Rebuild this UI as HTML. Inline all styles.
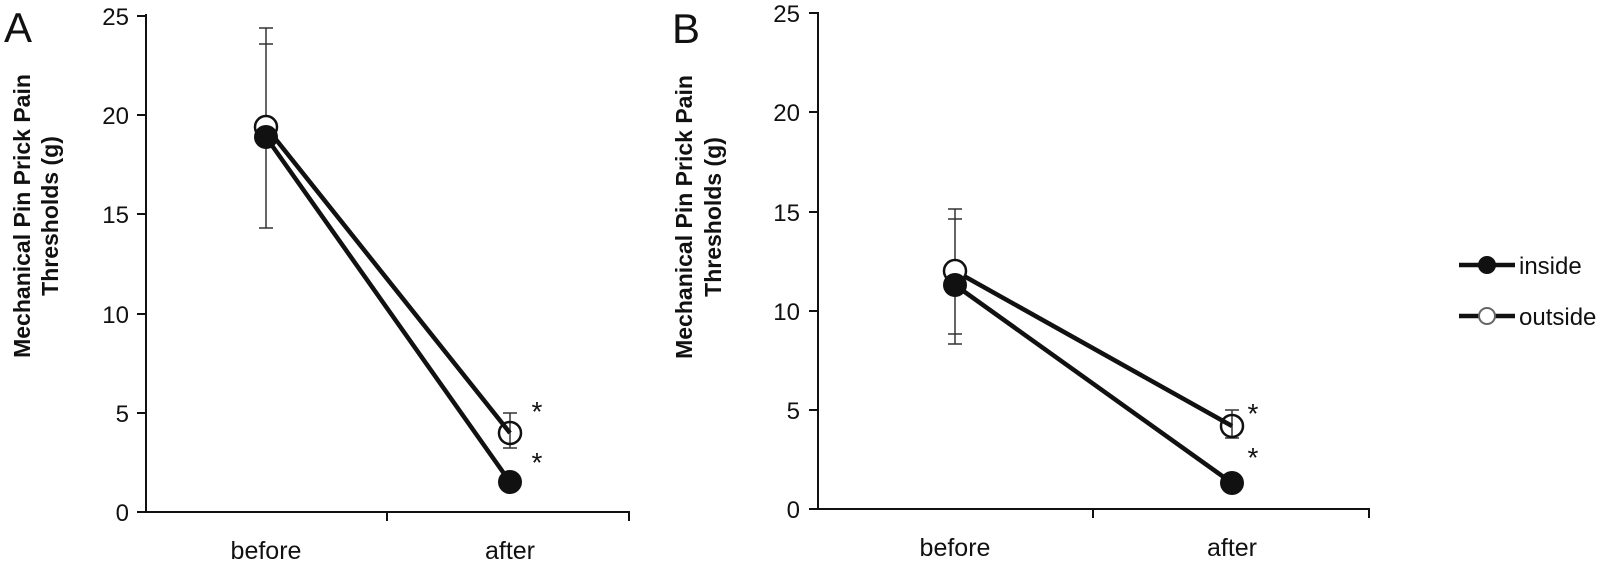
<!DOCTYPE html>
<html><head><meta charset="utf-8"><style>
html,body{margin:0;padding:0;background:#fff;}
svg{display:block;font-family:"Liberation Sans",sans-serif;}
</style></head><body>
<svg width="1605" height="564" viewBox="0 0 1605 564" xmlns="http://www.w3.org/2000/svg">
<g fill="#111">
<text x="4" y="42" font-size="42">A</text>
<text x="672" y="43" font-size="42">B</text>
</g>
<!-- Panel A -->
<g stroke="#111" stroke-width="2" fill="none">
<line x1="146" y1="14" x2="146" y2="513"/>
<line x1="146" y1="512" x2="630" y2="512"/>
<line x1="387" y1="512" x2="387" y2="521"/>
<line x1="629" y1="512" x2="629" y2="521"/>
<line x1="137" y1="16" x2="146" y2="16"/><line x1="137" y1="115" x2="146" y2="115"/>
<line x1="137" y1="214" x2="146" y2="214"/><line x1="137" y1="314" x2="146" y2="314"/>
<line x1="137" y1="413" x2="146" y2="413"/><line x1="137" y1="512" x2="146" y2="512"/>
</g>
<g font-size="24" fill="#111" text-anchor="end">
<text x="129" y="25">25</text><text x="129" y="124">20</text><text x="129" y="223">15</text>
<text x="129" y="323">10</text><text x="129" y="422">5</text><text x="129" y="521">0</text>
</g>
<g font-size="25" fill="#111" text-anchor="middle">
<text x="266" y="559">before</text><text x="510" y="559">after</text>
</g>
<g font-size="23" font-weight="bold" fill="#111" text-anchor="middle">
<text transform="translate(30,216) rotate(-90)">Mechanical Pin Prick Pain</text>
<text transform="translate(58,216) rotate(-90)">Thresholds (g)</text>
</g>
<g stroke="#333" stroke-width="1.5">
<line x1="266" y1="28" x2="266" y2="228"/>
<line x1="259" y1="28" x2="273" y2="28"/><line x1="259" y1="44" x2="273" y2="44"/><line x1="259" y1="228" x2="273" y2="228"/>
<line x1="510" y1="413" x2="510" y2="448"/>
<line x1="503" y1="413" x2="517" y2="413"/><line x1="503" y1="448" x2="517" y2="448"/>
</g>
<g stroke="#111" stroke-width="4.5">
<line x1="266" y1="127" x2="510" y2="433"/>
<line x1="266" y1="137" x2="510" y2="482"/>
</g>
<circle cx="266" cy="127" r="11" fill="#fff" stroke="#111" stroke-width="2.5"/>
<circle cx="266" cy="137" r="12" fill="#111"/>
<circle cx="510" cy="433" r="11" fill="none" stroke="#111" stroke-width="2.5"/>
<circle cx="510" cy="482" r="12" fill="#111"/>
<g font-size="28" fill="#111" text-anchor="middle">
<text x="537" y="421">*</text><text x="537" y="472">*</text>
</g>
<!-- Panel B -->
<g stroke="#111" stroke-width="2" fill="none">
<line x1="818" y1="12" x2="818" y2="510"/>
<line x1="818" y1="509" x2="1370" y2="509"/>
<line x1="1093" y1="509" x2="1093" y2="518"/>
<line x1="1369" y1="509" x2="1369" y2="518"/>
<line x1="809" y1="13" x2="818" y2="13"/><line x1="809" y1="112" x2="818" y2="112"/>
<line x1="809" y1="212" x2="818" y2="212"/><line x1="809" y1="311" x2="818" y2="311"/>
<line x1="809" y1="410" x2="818" y2="410"/><line x1="809" y1="509" x2="818" y2="509"/>
</g>
<g font-size="24" fill="#111" text-anchor="end">
<text x="800" y="22">25</text><text x="800" y="121">20</text><text x="800" y="221">15</text>
<text x="800" y="320">10</text><text x="800" y="419">5</text><text x="800" y="518">0</text>
</g>
<g font-size="25" fill="#111" text-anchor="middle">
<text x="955" y="556">before</text><text x="1232" y="556">after</text>
</g>
<g font-size="23" font-weight="bold" fill="#111" text-anchor="middle">
<text transform="translate(692,217) rotate(-90)">Mechanical Pin Prick Pain</text>
<text transform="translate(721,217) rotate(-90)">Thresholds (g)</text>
</g>
<g stroke="#333" stroke-width="1.5">
<line x1="955" y1="209" x2="955" y2="344"/>
<line x1="948" y1="209" x2="962" y2="209"/><line x1="948" y1="219" x2="962" y2="219"/>
<line x1="948" y1="334" x2="962" y2="334"/><line x1="948" y1="344" x2="962" y2="344"/>
<line x1="1232" y1="410" x2="1232" y2="438"/>
<line x1="1225" y1="410" x2="1239" y2="410"/><line x1="1225" y1="438" x2="1239" y2="438"/>
</g>
<g stroke="#111" stroke-width="4.5">
<line x1="955" y1="271" x2="1232" y2="426"/>
<line x1="955" y1="285" x2="1232" y2="483"/>
</g>
<circle cx="955" cy="271" r="11" fill="#fff" stroke="#111" stroke-width="2.5"/>
<circle cx="955" cy="285" r="12" fill="#111"/>
<circle cx="1232" cy="426" r="11" fill="none" stroke="#111" stroke-width="2.5"/>
<circle cx="1232" cy="483" r="12" fill="#111"/>
<g font-size="28" fill="#111" text-anchor="middle">
<text x="1253" y="423">*</text><text x="1253" y="467">*</text>
</g>
<!-- Legend -->
<g stroke="#111" stroke-width="4.5">
<line x1="1459" y1="265" x2="1515" y2="265"/>
<line x1="1459" y1="316" x2="1515" y2="316"/>
</g>
<circle cx="1487" cy="265" r="9" fill="#111"/>
<circle cx="1487" cy="316" r="8" fill="#fff" stroke="#666" stroke-width="2"/>
<g font-size="24" fill="#111">
<text x="1519" y="274">inside</text>
<text x="1519" y="325">outside</text>
</g>
</svg>
</body></html>
